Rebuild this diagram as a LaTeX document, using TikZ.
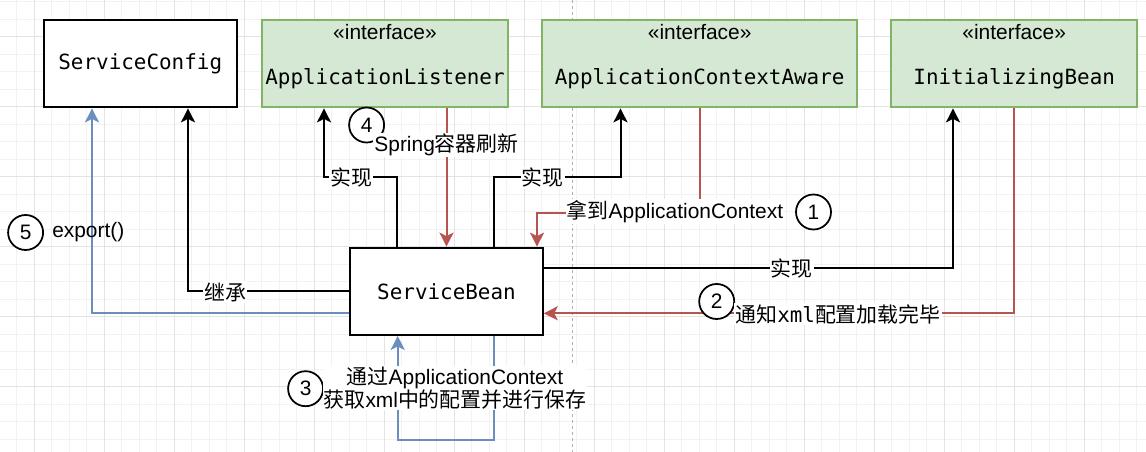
\documentclass[tikz,border=0pt]{standalone}
\usepackage{fontspec}
\setmainfont{Liberation Sans}
\newfontfamily\cjk{Noto Sans CJK SC}
\newfontfamily\mono{DejaVu Sans Mono}
\usetikzlibrary{arrows.meta}
\definecolor{gfill}{HTML}{D5E8D4}
\definecolor{gline}{HTML}{82B366}
\definecolor{redl}{HTML}{B85450}
\definecolor{bluel}{HTML}{6C8EBF}
\definecolor{gridminor}{HTML}{F2F2F2}
\definecolor{gridmajor}{HTML}{E3E3E3}
\definecolor{pagebrk}{HTML}{B0B0B0}
\begin{document}
\begin{tikzpicture}[x=1bp,y=-1bp,
  every node/.style={font=\fontsize{21}{22.5}\selectfont, inner sep=0pt},
  classbox/.style={draw=black, fill=white, line width=2bp, minimum width=192.5bp,
    minimum height=87.3bp, font=\mono\fontsize{21}{22.5}\selectfont},
  ifbox/.style={draw=gline, fill=gfill, line width=2bp, minimum height=87.3bp},
  ifname/.style={font=\mono\fontsize{21}{22.5}\selectfont},
  edge/.style={line width=2bp, -{Stealth[length=14bp,width=14bp,inset=3.5bp]}},
  blk/.style={edge, draw=black},
  redarrow/.style={edge, draw=redl},
  bluearrow/.style={edge, draw=bluel},
  lbl/.style={fill=white, inner sep=1bp},
  num/.style={circle, draw=black, fill=white, line width=1.75bp, minimum size=35bp, inner sep=0pt}
]
\useasboundingbox (0,0) rectangle (1146,452);
\fill[white] (0,0) rectangle (1146,452);
% grid
\foreach \i in {0,...,65} \draw[gridminor, line width=1bp] ({16.5+17.5*\i},0) -- ({16.5+17.5*\i},452);
\foreach \j in {0,...,25} \draw[gridminor, line width=1bp] (0,{2+17.5*\j}) -- (1146,{2+17.5*\j});
\foreach \i in {0,...,16} \draw[gridmajor, line width=1bp] ({34+70*\i},0) -- ({34+70*\i},452);
\foreach \j in {0,...,6} \draw[gridmajor, line width=1bp] (0,{37+70*\j}) -- (1146,{37+70*\j});
% page break line
\draw[pagebrk, line width=1bp, dash pattern=on 3bp off 3bp] (572.5,0) -- (572.5,452);

% boxes
\node[classbox] (sc) at (140.25,63.7) {ServiceConfig};
\node[ifbox, minimum width=246bp] (al) at (385,63.7) {};
\node[ifbox, minimum width=315.4bp] (aca) at (699.7,63.7) {};
\node[ifbox, minimum width=245.7bp] (ib) at (1014.2,63.7) {};
\node[classbox] (sb) at (446.5,291.3) {ServiceBean};

\node (alst) at ([yshift=-12.7bp]al.north) {«interface»};
\node[ifname] (alnm) at ([yshift=-14.6bp]al.center) {ApplicationListener};
\node (acast) at ([yshift=-12.7bp]aca.north) {«interface»};
\node[ifname] (acanm) at ([yshift=-14.6bp]aca.center) {ApplicationContextAware};
\node (ibst) at ([yshift=-12.7bp]ib.north) {«interface»};
\node[ifname] (ibnm) at ([yshift=-14.6bp]ib.center) {InitializingBean};

% connectors
\draw[blk] (sb.west) -| ([xshift=47.75bp]sc.south);
\draw[bluearrow] ([yshift=-22bp]sb.west) -| ([xshift=-48.25bp]sc.south);
\draw[blk] ([xshift=-49.5bp]sb.north) -- ++(0,-69.7) -| ([xshift=-61bp]al.south);
\draw[blk] ([xshift=47.5bp]sb.north) -- ++(0,-69.7) -| ([xshift=-79.2bp]aca.south);
\draw[blk] ([yshift=22.8bp]sb.east) -| ([xshift=-61.2bp]ib.south);
\draw[redarrow] (al.south -| sb.north) -- (sb.north);
\draw[redarrow] (aca.south) -- ++(0,104.7) -| ([xshift=90.5bp]sb.north);
\draw[redarrow] (ib.south) |- ([yshift=-22bp]sb.east);
\draw[bluearrow] ([xshift=47.5bp]sb.south) -- ++(0,104.3) -| ([xshift=-48.8bp]sb.south);

% numbered circles
\node[num] (n1) at (813.5,212) {1};
\node[num] (n2) at (716.7,301.5) {2};
\node[num] (n3) at (305.6,388.7) {3};
\node[num] (n4) at (366.6,125) {4};
\node[num] (n5) at (25.6,232.5) {5};

% labels
\node[lbl] (l1) at (351,178) {\cjk 实现};
\node[lbl] (l2) at (542.8,178) {\cjk 实现};
\node[lbl] (l3) at (791.6,268.5) {\cjk 实现};
\node[lbl] (l4) at (225,292) {\cjk 继承};
\node[lbl] (l5) at (446.5,145) {Spring{\cjk 容器刷新}};
\node[lbl] (l6) at (675,211.5) {{\cjk 拿到}ApplicationContext};
\node[lbl] (l7) at (838,314) {{\cjk 通知}{\mono xml}{\cjk 配置加载完毕}};
\node[lbl, align=center] (l8) at (455,388) {{\cjk 通过}ApplicationContext\\{\cjk 获取}xml{\cjk 中的配置并进行保存}};
\node (l9) at (88.3,232.5) {export()};
\end{tikzpicture}
\end{document}
